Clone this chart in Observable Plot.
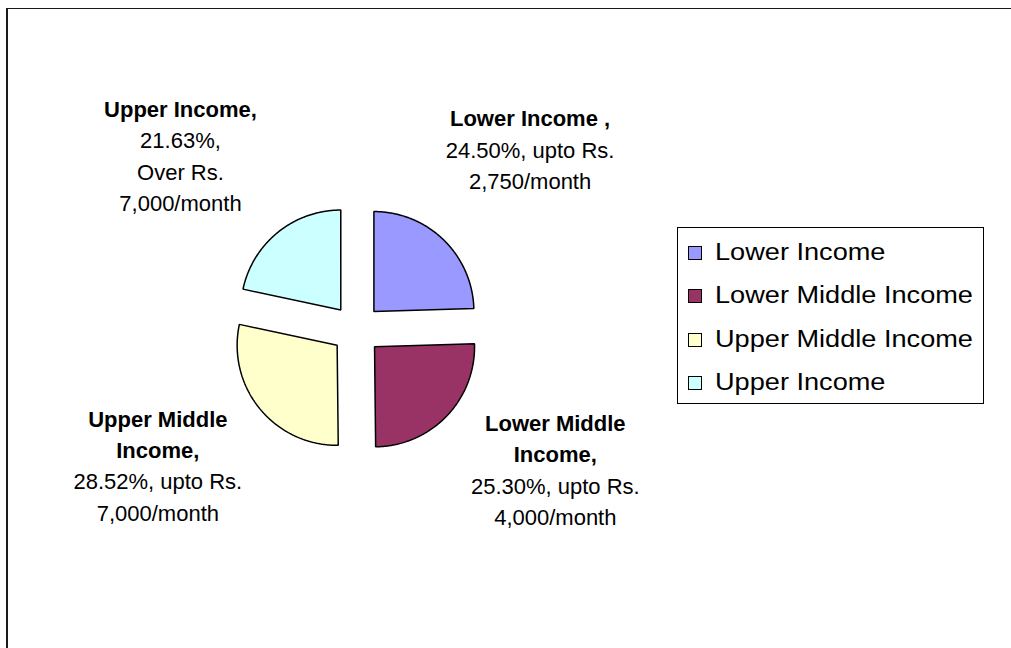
<!DOCTYPE html>
<html>
<head>
<meta charset="utf-8">
<script src="https://cdn.jsdelivr.net/npm/d3@7"></script>
<script src="https://cdn.jsdelivr.net/npm/@observablehq/plot@0.6"></script>
<style>
  body { margin: 0; background: #fff; font-family: "Liberation Sans", Arial, sans-serif; }
  #wrap { position: relative; width: 1011px; height: 648px; overflow: hidden; background: #fff; }
  #chart { position: absolute; left: 0; top: 0; }
  #frame { position: absolute; left: 6px; top: 8px; right: -10px; bottom: -10px;
           border-left: 2px solid #1a1a1a; border-top: 1.5px solid #1a1a1a; pointer-events: none; }
  #legend { position: absolute; left: 677px; top: 227px; width: 307px; height: 177px;
            box-sizing: border-box; border: 1px solid #000; background: #fff; }
  #legend .row { position: absolute; left: 0; height: 0; }
  #legend .sw { position: absolute; left: 10px; top: -7px; width: 14px; height: 14px;
                box-sizing: border-box; border: 1.5px solid #000; }
  #legend .lt { position: absolute; left: 37px; top: 0; font-size: 23px; line-height: 1;
                white-space: nowrap; color: #000;
                transform: translateY(-52%) scaleX(1.18); transform-origin: left center; }
</style>
</head>
<body>
<div id="wrap">
  <div id="chart"></div>
  <div id="frame"></div>
  <div id="legend"></div>
</div>
<script>
// ---- data ----
const categories = ["Lower Income", "Lower Middle Income", "Upper Middle Income", "Upper Income"];
const shares = [24.50, 25.30, 28.52, 21.63];
const colors = ["#9999FF", "#993366", "#FFFFCC", "#CCFFFF"];
const labelBold = [["Lower Income ,"], ["Lower Middle", "Income,"], ["Upper Middle", "Income,"], ["Upper Income,"]];
const labelRest = [
  ["24.50%, upto Rs.", "2,750/month"],
  ["25.30%, upto Rs.", "4,000/month"],
  ["28.52%, upto Rs.", "7,000/month"],
  ["21.63%,", "Over Rs.", "7,000/month"]
];

// ---- layout (chart units: 1 unit = pie radius) ----
const RADIUS = 1, EXPLODE = 0.25, LABEL_R = 2.45, LINE_STEP = 0.313;
const labelNudge = [[0.03, 0.03], [0.22, 0.28], [-0.09, 0.18], [-0.22, -0.18]]; // [dx, dy] in units, y up

const total = d3.sum(shares);
let acc = 0;
const slices = categories.map((name, i) => {
  const a0 = acc / total * 2 * Math.PI;
  acc += shares[i];
  const a1 = acc / total * 2 * Math.PI;
  return {name, i, a0, a1, mid: (a0 + a1) / 2};
});

// polygon outlines of exploded slices (angle clockwise from 12 o'clock)
const pts = [];
for (const s of slices) {
  const ox = EXPLODE * Math.sin(s.mid), oy = EXPLODE * Math.cos(s.mid);
  pts.push({name: s.name, x: ox, y: oy});
  const n = Math.ceil((s.a1 - s.a0) / (Math.PI / 360));
  for (let k = 0; k <= n; k++) {
    const a = s.a0 + (s.a1 - s.a0) * k / n;
    pts.push({name: s.name, x: ox + RADIUS * Math.sin(a), y: oy + RADIUS * Math.cos(a)});
  }
}

// label lines
const lines = [];
for (const s of slices) {
  const all = [...labelBold[s.i].map(t => ({t, bold: true})), ...labelRest[s.i].map(t => ({t, bold: false}))];
  const cx = LABEL_R * Math.sin(s.mid) + labelNudge[s.i][0];
  const cy = LABEL_R * Math.cos(s.mid) + labelNudge[s.i][1];
  all.forEach((d, j) => lines.push({text: d.t, bold: d.bold, x: cx, y: cy + ((all.length - 1) / 2 - j) * LINE_STEP}));
}

const chart = Plot.plot({
  width: 1011,
  height: 648,
  margin: 0,
  x: {domain: [-3.56, 6.55], axis: null},
  y: {domain: [-3.19, 3.29], axis: null},
  color: {domain: categories, range: colors},
  style: {fontFamily: "'Liberation Sans', Arial, sans-serif", background: "transparent", color: "#000"},
  marks: [
    Plot.line(pts, {x: "x", y: "y", z: "name", fill: "name", stroke: "#000", strokeWidth: 1.5,
                    strokeLinejoin: "miter", curve: "linear-closed"}),
    Plot.text(lines.filter(d => d.bold), {x: "x", y: "y", text: "text", fontWeight: "bold", fontSize: 22, fill: "#000"}),
    Plot.text(lines.filter(d => !d.bold), {x: "x", y: "y", text: "text", fontSize: 22, fill: "#000"})
  ]
});
document.getElementById("chart").appendChild(chart);

// legend
const legend = document.getElementById("legend");
categories.forEach((name, i) => {
  const row = document.createElement("div");
  row.className = "row";
  row.style.top = (25 + i * 43.4) + "px";
  const sw = document.createElement("span");
  sw.className = "sw";
  sw.style.background = colors[i];
  const lt = document.createElement("span");
  lt.className = "lt";
  lt.textContent = name;
  row.appendChild(sw);
  row.appendChild(lt);
  legend.appendChild(row);
});
</script>
</body>
</html>
